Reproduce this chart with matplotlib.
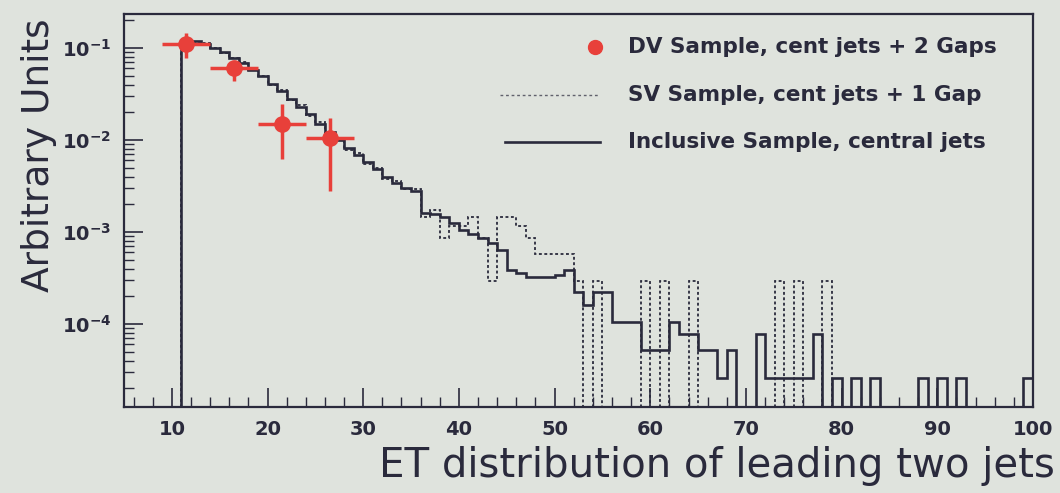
import numpy as np
import matplotlib
matplotlib.use('Agg')
import matplotlib.pyplot as plt
from matplotlib.ticker import LogLocator, MultipleLocator, NullFormatter

# 1 GeV bins, ET from 11 to 100
edges = np.arange(11, 101, 1)

# Inclusive sample, central jets (normalised)
incl = [0.118, 0.118, 0.110, 0.100, 0.090, 0.078, 0.068, 0.058, 0.049, 0.041,
        0.034, 0.028, 0.023, 0.019, 0.0150, 0.0122, 0.0100, 0.0082, 0.0068, 0.0057,
        0.0048, 0.0040, 0.0034, 0.0030, 0.0028, 0.0016, 0.00155, 0.00145, 0.00125, 0.00105,
        0.00095, 0.00085, 0.00075, 0.00063, 0.00039, 0.00036, 0.00032, 0.00032, 0.00032, 0.00034,
        0.00039, 0.00022, 0.00016, 0.00022, 0.00022, 0.000105, 0.000105, 0.000105, 0.000052, 0.000052,
        0.000052, 0.000105, 0.000078, 0.000078, 0.000052, 0.000052, 0.000026, 0.000052, 0, 0,
        0.000078, 0.000026, 0.000026, 0.000026, 0.000026, 0.000026, 0.000078, 0, 0.000026, 0,
        0.000026, 0, 0.000026, 0, 0, 0, 0, 0.000026, 0, 0.000026,
        0, 0.000026, 0, 0, 0, 0, 0, 0, 0.000026]

# SV sample, cent jets + 1 gap
sv = [0.118, 0.117, 0.112, 0.100, 0.088, 0.078, 0.070, 0.058, 0.050, 0.040,
      0.035, 0.027, 0.024, 0.018, 0.0155, 0.0118, 0.0105, 0.0078, 0.0072, 0.0055,
      0.0050, 0.0038, 0.0036, 0.0029, 0.0029, 0.00145, 0.00174, 0.00087, 0.00116, 0.00116,
      0.00145, 0.00087, 0.00029, 0.00145, 0.00145, 0.00116, 0.00087, 0.00058, 0.00058, 0.00058,
      0.00058, 0.00029, 0, 0.00029, 0, 0, 0, 0, 0.00029, 0,
      0.00029, 0, 0, 0.00029, 0, 0, 0, 0, 0, 0,
      0, 0, 0.00029, 0, 0.00029, 0, 0, 0.00029, 0, 0,
      0, 0, 0, 0, 0, 0, 0, 0, 0, 0,
      0, 0, 0, 0, 0, 0, 0, 0, 0]

# DV sample, cent jets + 2 gaps
dv_x = [11.5, 16.5, 21.5, 26.5]
dv_y = [0.11, 0.06, 0.015, 0.0105]
dv_lo = [0.078, 0.044, 0.0062, 0.0028]
dv_hi = [0.145, 0.072, 0.0245, 0.0174]
dv_xerr = 2.5

labels = ['DV Sample, cent jets + 2 Gaps',
          'SV Sample, cent jets + 1 Gap',
          'Inclusive Sample, central jets']

bg = '#dfe3dd'
ink = '#2a2a3c'
red = '#e8403a'
tiny = 1e-9  # empty bins drop to the bottom of the frame

fig = plt.figure(figsize=(10.6, 4.93), dpi=100, facecolor=bg)
ax = fig.add_axes([0.117, 0.1744, 0.8575, 0.7972], facecolor=bg)
ax.set_yscale('log')

sv_arr = np.array(sv, dtype=float)
incl_arr = np.array(incl, dtype=float)
ax.stairs(np.where(sv_arr > 0, sv_arr, tiny), edges, baseline=tiny,
          color=ink, lw=1.3, linestyle=(0, (1.6, 1.4)))
ax.stairs(np.where(incl_arr > 0, incl_arr, tiny), edges, baseline=tiny,
          color=ink, lw=1.9)

yerr = [np.array(dv_y) - np.array(dv_lo), np.array(dv_hi) - np.array(dv_y)]
ax.errorbar(dv_x, dv_y, xerr=dv_xerr, yerr=yerr, fmt='o', color=red,
            ms=11, elinewidth=2.5, capsize=0, zorder=5)

ax.set_xlim(5, 100)
ax.set_ylim(1.25e-5, 0.234)

ax.xaxis.set_major_locator(MultipleLocator(10))
ax.xaxis.set_minor_locator(MultipleLocator(2))
ax.yaxis.set_major_locator(LogLocator(base=10, numticks=10))
ax.yaxis.set_minor_locator(LogLocator(base=10, subs=np.arange(2, 10), numticks=20))
ax.yaxis.set_minor_formatter(NullFormatter())

ax.tick_params(which='both', direction='in', top=False, right=False, colors=ink)
ax.tick_params(which='major', length=14, width=1.2, labelsize=14, pad=9)
ax.tick_params(which='minor', length=7, width=1.0)
for lab in ax.get_xticklabels() + ax.get_yticklabels():
    lab.set_fontweight('bold')
for sp in ax.spines.values():
    sp.set_color(ink)
    sp.set_linewidth(1.6)

ax.set_ylabel('Arbitrary Units', fontsize=27, color=ink, loc='top')
ax.yaxis.set_label_coords(-0.074, 0.99)
ax.set_xlabel('ET distribution of leading two jets', fontsize=29, color=ink, loc='right')
ax.xaxis.set_label_coords(1.024, -0.1)

# legend drawn by hand, ROOT style
rows = [0.916, 0.794, 0.674]
ax.plot([0.518], [rows[0]], 'o', color=red, ms=10, transform=ax.transAxes, clip_on=False)
ax.plot([0.414, 0.524], [rows[1]] * 2, color=ink, lw=1.0, linestyle=(0, (2, 2)),
        transform=ax.transAxes, alpha=0.7)
ax.plot([0.419, 0.524], [rows[2]] * 2, color=ink, lw=1.9, transform=ax.transAxes)
for r, t in zip(rows, labels):
    ax.text(0.5545, r, t, transform=ax.transAxes, fontsize=15.5, fontweight='bold',
            color=ink, va='center', ha='left')

fig.savefig('out.png', dpi=100, facecolor=bg)
